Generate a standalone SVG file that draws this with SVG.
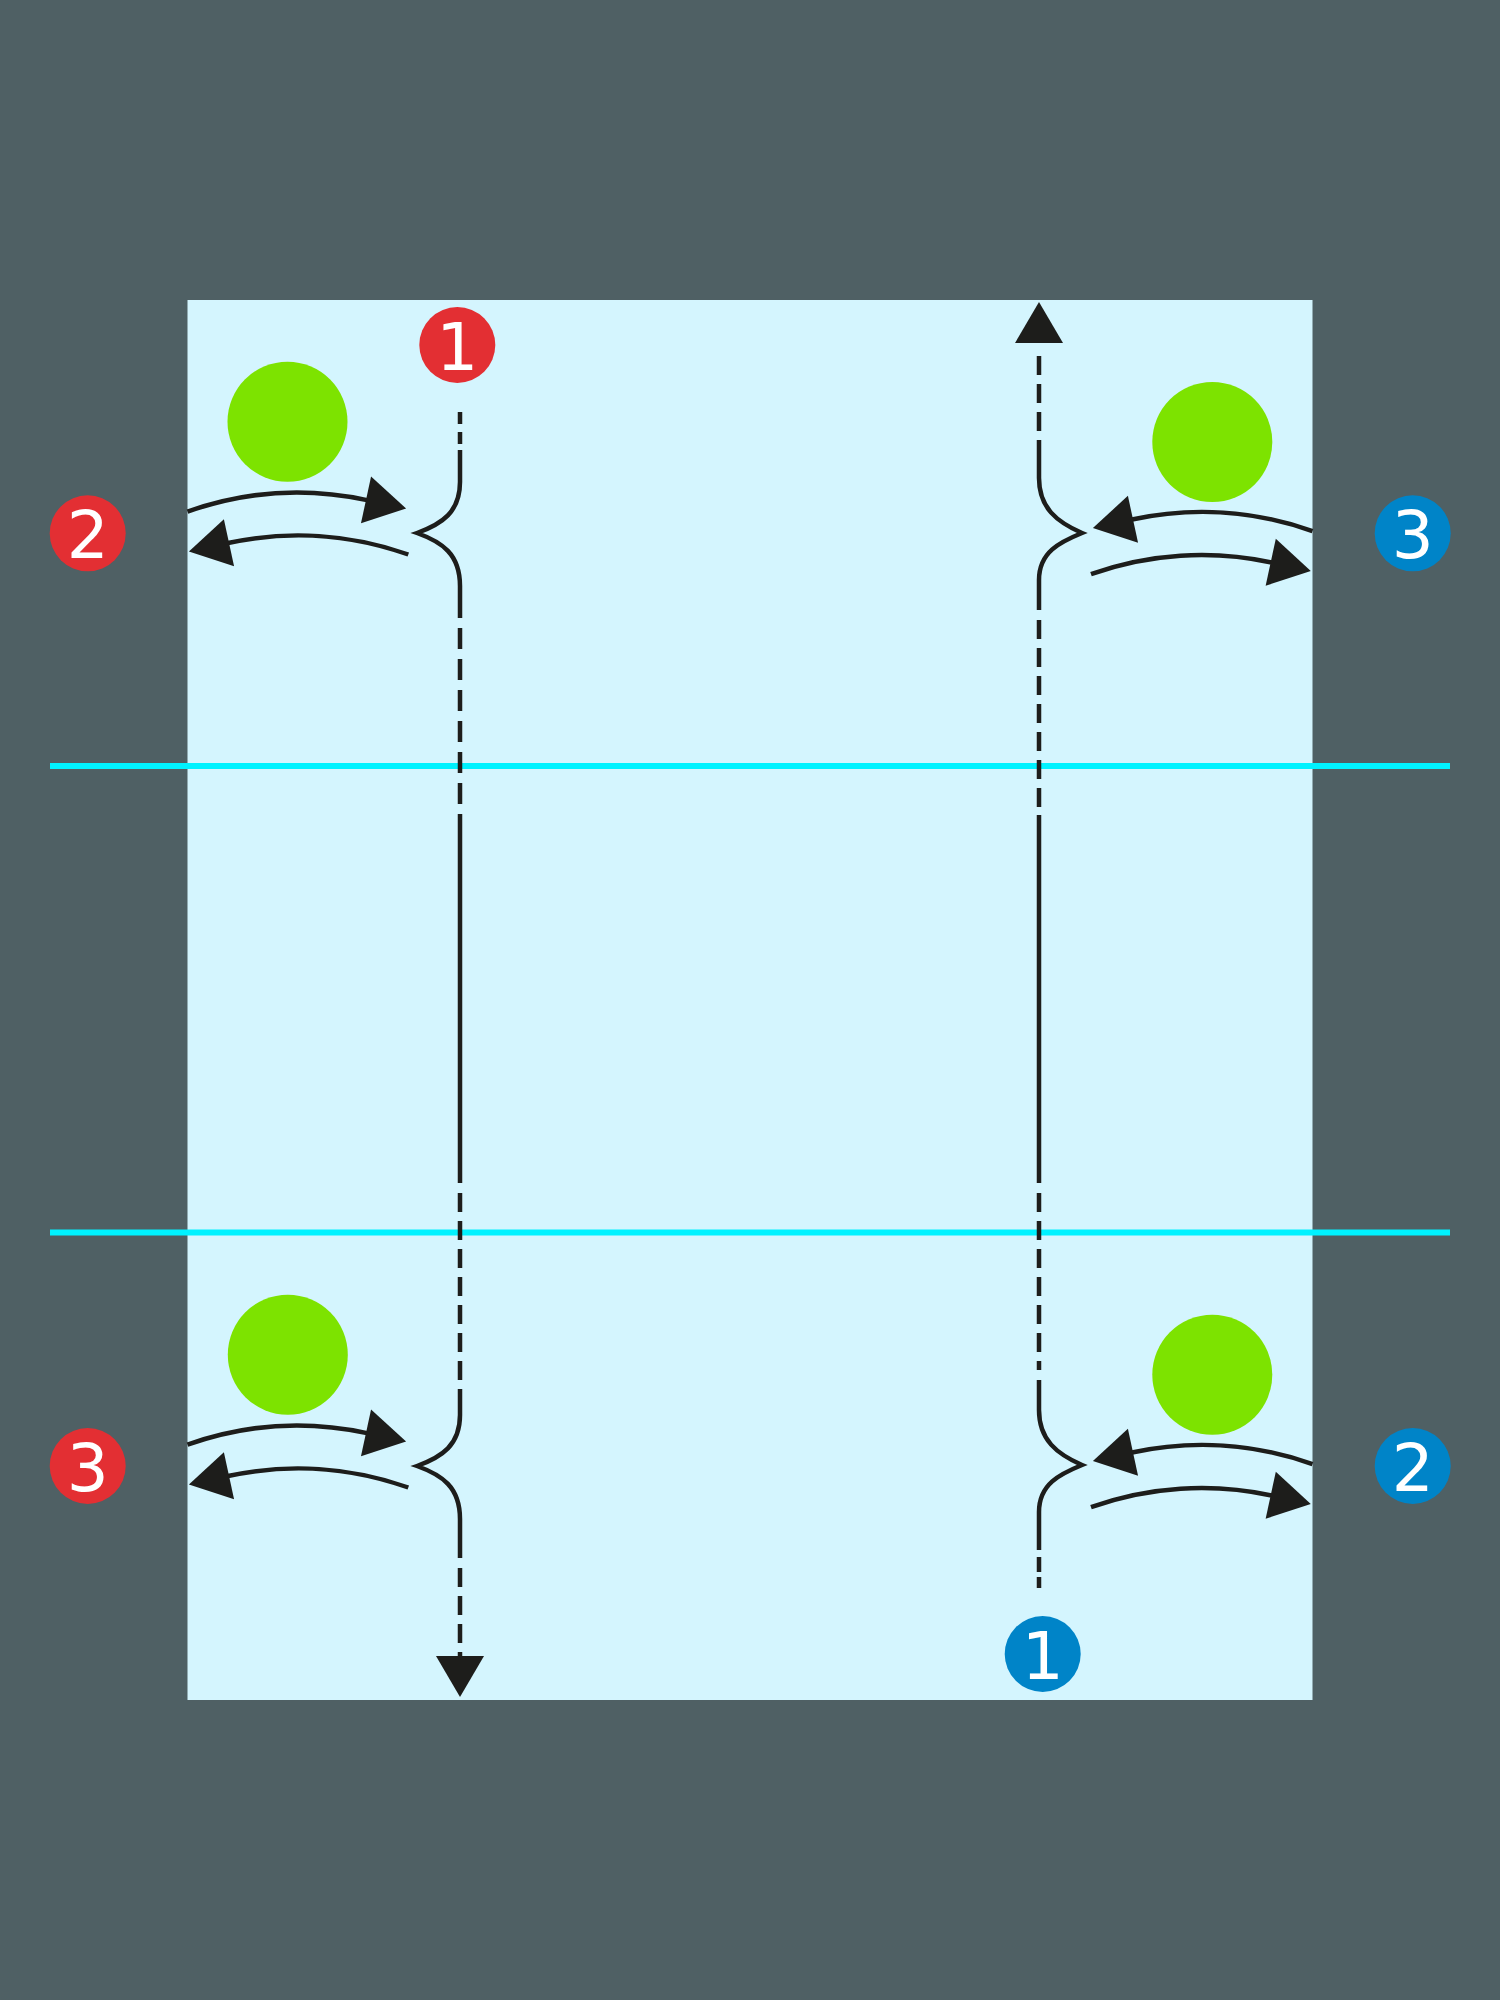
<svg xmlns="http://www.w3.org/2000/svg" width="1500" height="2000" viewBox="0 0 1500 2000">
  <style>
    .ln { fill: none; stroke: #1d1d1b; stroke-width: 4.5; }
    .d1 { stroke-dasharray: 19 9; }
    .d2 { stroke-dasharray: 21 10; }
    .d3 { stroke-dasharray: 12 8; }
    .arr { marker-end: url(#ah); }
    .cyan { stroke: #00f2ff; stroke-width: 6; }
    .player { fill: #7de300; }
    .red { fill: #e32f33; }
    .blue { fill: #0084c8; }
    .num { fill: #ffffff; font-family: "DejaVu Sans", "Liberation Sans", sans-serif; font-size: 66px; text-anchor: middle; }
  </style>
  <defs>
    <marker id="ah" markerUnits="userSpaceOnUse" markerWidth="48" markerHeight="48" refX="1" refY="24" orient="auto" overflow="visible">
      <path d="M0,0 L41,24 L0,48 z" fill="#1d1d1b"/>
    </marker>
  </defs>

  <rect id="background" x="0" y="0" width="1500" height="2000" fill="#4f6064"/>
  <rect id="field" x="187.5" y="300" width="1125" height="1400" fill="#d4f5fe"/>

  <g id="zone-lines">
    <line class="cyan" x1="50" y1="766" x2="1450" y2="766"/>
    <line class="cyan" x1="50" y1="1232.5" x2="1450" y2="1232.5"/>
  </g>

  <g id="player-top-left"><circle class="player" cx="287.5" cy="421.7" r="60"/></g>
  <g id="player-top-right"><circle class="player" cx="1212.3" cy="442" r="60"/></g>
  <g id="player-bottom-left"><circle class="player" cx="287.8" cy="1354.7" r="60"/></g>
  <g id="player-bottom-right"><circle class="player" cx="1212.3" cy="1374.7" r="60"/></g>

  <g id="connectors">
    <!-- left vertical run -->
    <path class="ln d3" d="M460,412 L460,446"/>
    <path class="ln" d="M460,450 L460,482 C460,512 442,524 417,533 C442,542 460,554 460,586 L460,618"/>
    <path class="ln d2" d="M460,628 L460,815"/>
    <path class="ln" d="M460,815 L460,1183"/>
    <path class="ln d1" d="M460,1193 L460,1381"/>
    <path class="ln" d="M460,1389 L460,1415 C460,1445 442,1457 417,1466 C442,1475 460,1487 460,1519 L460,1558"/>
    <path class="ln d1 arr" d="M460,1568 L460,1657"/>

    <!-- right vertical run -->
    <path class="ln arr" style="stroke-dasharray:19 9 19 9 19 20" d="M1039,431 L1039,342"/>
    <path class="ln" d="M1039,440 L1039,478 C1039,508 1057,522 1082,533 C1060,542 1039,552 1039,580 L1039,610"/>
    <path class="ln d1" d="M1039,620 L1039,815"/>
    <path class="ln" d="M1039,815 L1039,1183"/>
    <path class="ln d1" d="M1039,1193 L1039,1370"/>
    <path class="ln" d="M1039,1380 L1039,1410 C1039,1440 1057,1454 1082,1465 C1060,1474 1039,1484 1039,1512 L1039,1550"/>
    <path class="ln" style="stroke-dasharray:15 5" d="M1039,1557 L1039,1588"/>

    <!-- top-left passes -->
    <path class="ln arr" d="M187.5,511.6 A330,330 0 0,1 367,500.1"/>
    <path class="ln arr" d="M408.3,554.5 A330,330 0 0,0 228,543"/>
    <!-- top-right passes -->
    <path class="ln arr" d="M1312.5,531.1 A330,330 0 0,0 1132,519.5"/>
    <path class="ln arr" d="M1091,574.1 A330,330 0 0,1 1271.7,562.5"/>
    <!-- bottom passes -->
    <g transform="translate(0,933)">
      <path class="ln arr" d="M187.5,511.6 A330,330 0 0,1 367,500.1"/>
      <path class="ln arr" d="M408.3,554.5 A330,330 0 0,0 228,543"/>
      <path class="ln arr" d="M1312.5,531.1 A330,330 0 0,0 1132,519.5"/>
      <path class="ln arr" d="M1091,574.1 A330,330 0 0,1 1271.7,562.5"/>
    </g>
  </g>

  <g id="badge-red-1"><circle class="red" cx="457.3" cy="345" r="38"/><text class="num" x="457.3" y="370">1</text></g>
  <g id="badge-red-2"><circle class="red" cx="87.7" cy="533.3" r="38"/><text class="num" x="87.7" y="558">2</text></g>
  <g id="badge-red-3"><circle class="red" cx="87.7" cy="1466" r="38"/><text class="num" x="87.7" y="1490.5">3</text></g>
  <g id="badge-blue-3"><circle class="blue" cx="1412.7" cy="533.3" r="38"/><text class="num" x="1412.7" y="558">3</text></g>
  <g id="badge-blue-2"><circle class="blue" cx="1412.7" cy="1466" r="38"/><text class="num" x="1412.7" y="1490.5">2</text></g>
  <g id="badge-blue-1"><circle class="blue" cx="1042.7" cy="1654" r="38"/><text class="num" x="1042.7" y="1678.5">1</text></g>
</svg>
